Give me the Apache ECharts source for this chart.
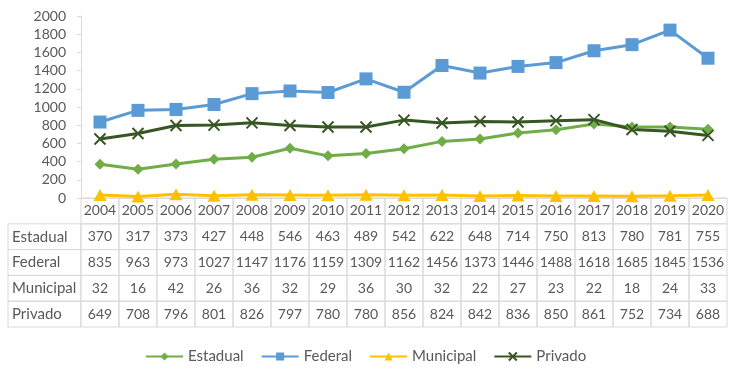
<!DOCTYPE html>
<html>
<head>
<meta charset="utf-8">
<script src="https://cdn.jsdelivr.net/npm/echarts@6/dist/echarts.min.js"></script>
<style>
  html, body { margin: 0; padding: 0; background: #fff; }
  #main { width: 750px; height: 373px; }
</style>
</head>
<body>
<div id="main"></div>
<script>
var years = ['2004', '2005', '2006', '2007', '2008', '2009', '2010', '2011', '2012',
  '2013', '2014', '2015', '2016', '2017', '2018', '2019', '2020'];
var estadual = [370, 317, 373, 427, 448, 546, 463, 489, 542, 622, 648, 714, 750, 813, 780, 781, 755];
var federal = [835, 963, 973, 1027, 1147, 1176, 1159, 1309, 1162, 1456, 1373, 1446, 1488, 1618, 1685, 1845, 1536];
var municipal = [32, 16, 42, 26, 36, 32, 29, 36, 30, 32, 22, 27, 23, 22, 18, 24, 33];
var privado = [649, 708, 796, 801, 826, 797, 780, 780, 856, 824, 842, 836, 850, 861, 752, 734, 688];
var seriesNames = ['Estadual', 'Federal', 'Municipal', 'Privado'];
var yTicks = [0, 200, 400, 600, 800, 1000, 1200, 1400, 1600, 1800, 2000];

var myChart = echarts.init(document.getElementById('main'));

var FONT = 'Lato, "Open Sans", sans-serif';
var TXT = '#595959';
var BORDER = '#d9d9d9';
var HEAD_W = 1.92; // width of the row-name column, in year columns

// table cells: [x0, x1, row], text kept alongside
var cells = [];
var cellText = [];
var cellHead = [];
years.forEach(function (y, i) {
  cells.push([i, i + 1, 0]); cellText.push(y); cellHead.push(false);
});
[estadual, federal, municipal, privado].forEach(function (arr, r) {
  cells.push([-HEAD_W, 0, r + 1]); cellText.push(seriesNames[r]); cellHead.push(true);
  arr.forEach(function (v, i) {
    cells.push([i, i + 1, r + 1]); cellText.push(String(v)); cellHead.push(false);
  });
});

var xShape = 'path://M0,0L10,10M10,0L0,10';

var option = {
  animation: false,
  textStyle: { fontFamily: FONT },
  color: ['#70ad47', '#5b9bd5', '#ffc000', '#375623'],
  grid: [
    { left: 81, right: 23, top: 16, bottom: 175 },
    { left: 8, right: 23, top: 198, bottom: 46 }
  ],
  legend: {
    left: 140,
    top: 344,
    itemWidth: 37,
    itemHeight: 10,
    itemGap: 17,
    textStyle: { fontSize: 15, color: TXT, fontFamily: FONT },
    data: seriesNames
  },
  xAxis: [
    {
      type: 'category',
      gridIndex: 0,
      data: years,
      boundaryGap: true,
      axisLine: { lineStyle: { color: BORDER } },
      axisTick: { show: false },
      axisLabel: { show: false }
    },
    {
      type: 'value',
      gridIndex: 1,
      min: -HEAD_W,
      max: years.length,
      show: false
    }
  ],
  yAxis: [
    {
      type: 'value',
      gridIndex: 0,
      min: 0,
      max: 2000,
      interval: 200,
      axisLine: { show: true, lineStyle: { color: BORDER } },
      axisTick: { show: true, length: 4, lineStyle: { color: BORDER } },
      splitLine: { show: false },
      axisLabel: {
        color: TXT, fontSize: 14, margin: 15, fontFamily: FONT,
        formatter: function (v) { return yTicks.indexOf(v) >= 0 ? String(v) : ''; }
      }
    },
    {
      type: 'value',
      gridIndex: 1,
      min: 0,
      max: 5,
      inverse: true,
      show: false
    }
  ],
  series: [
    {
      name: 'Estadual', type: 'line', data: estadual,
      symbol: 'diamond', symbolSize: 11,
      lineStyle: { width: 3 }
    },
    {
      name: 'Federal', type: 'line', data: federal,
      symbol: 'rect', symbolSize: 13,
      lineStyle: { width: 3 }
    },
    {
      name: 'Municipal', type: 'line', data: municipal,
      symbol: 'triangle', symbolSize: [13, 12],
      lineStyle: { width: 3 }
    },
    {
      name: 'Privado', type: 'line', data: privado,
      symbol: xShape, symbolSize: 11,
      itemStyle: { borderColor: '#375623', borderWidth: 2 },
      lineStyle: { width: 3 }
    },
    {
      type: 'custom',
      xAxisIndex: 1,
      yAxisIndex: 1,
      silent: true,
      data: cells,
      renderItem: function (params, api) {
        var i = params.dataIndex;
        var x0 = api.value(0), x1 = api.value(1), r = api.value(2);
        var p0 = api.coord([x0, r]);
        var p1 = api.coord([x1, r + 1]);
        var head = cellHead[i];
        return {
          type: 'group',
          children: [
            {
              type: 'rect',
              shape: { x: p0[0], y: p0[1], width: p1[0] - p0[0], height: p1[1] - p0[1] },
              style: { fill: null, stroke: BORDER, lineWidth: 1 }
            },
            {
              type: 'text',
              style: {
                text: cellText[i],
                x: head ? p0[0] + 4 : (p0[0] + p1[0]) / 2,
                y: (p0[1] + p1[1]) / 2,
                align: head ? 'left' : 'center',
                verticalAlign: 'middle',
                fill: TXT,
                font: (head ? '15px ' : '14px ') + FONT
              }
            }
          ]
        };
      }
    }
  ]
};

option && myChart.setOption(option);
</script>
</body>
</html>
